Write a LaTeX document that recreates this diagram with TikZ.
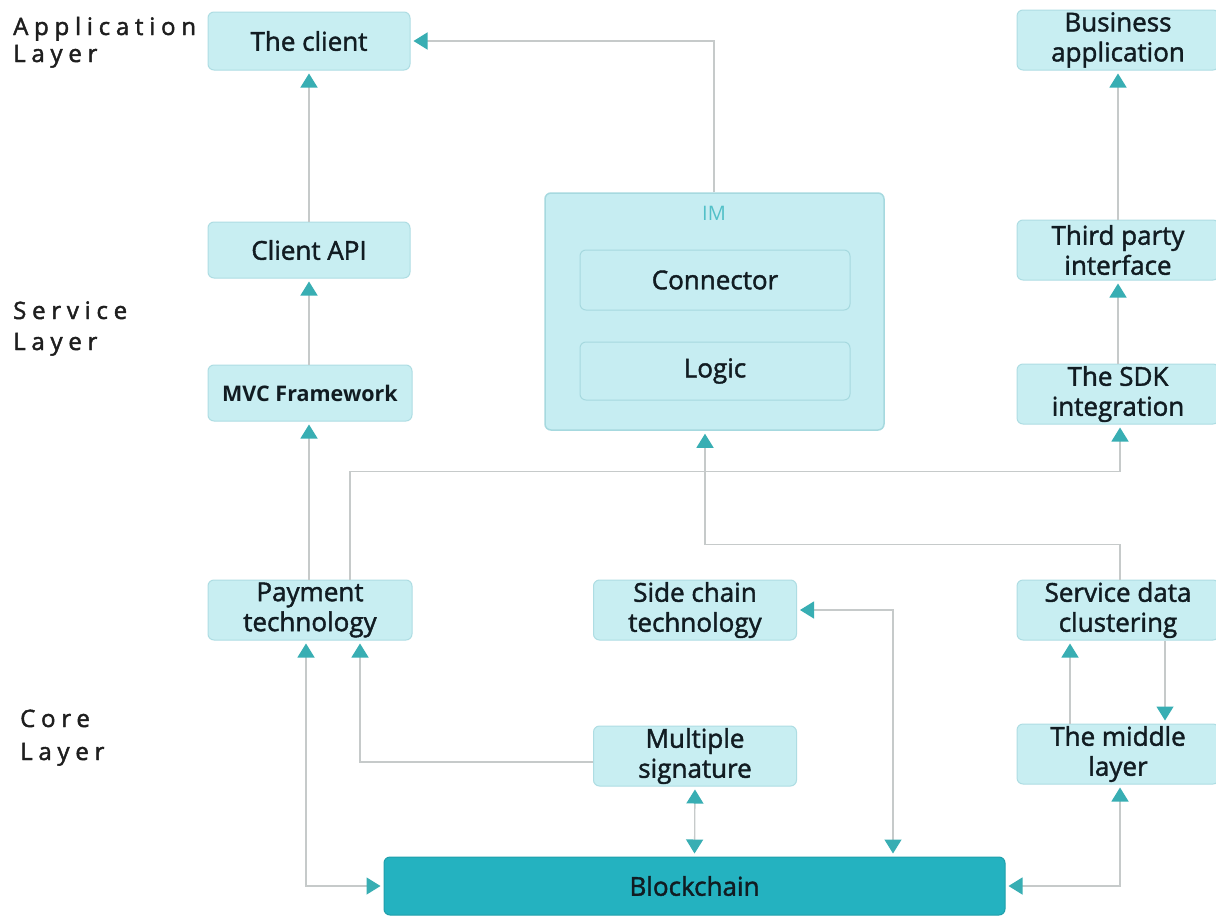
\documentclass[tikz,border=0pt]{standalone}
\usepackage{fontspec}
\setmainfont{Open Sans}
\usetikzlibrary{arrows.meta}
\definecolor{boxfill}{HTML}{C8EEF2}
\definecolor{boxedge}{HTML}{AEDDE3}
\definecolor{imfill}{HTML}{C6EDF2}
\definecolor{imedge}{HTML}{A6D9DF}
\definecolor{blockfill}{HTML}{24B2C0}
\definecolor{blockedge}{HTML}{1F9FAB}
\definecolor{linecol}{HTML}{C6CACA}
\definecolor{tipcol}{HTML}{38AEB3}
\definecolor{txt}{HTML}{111C22}
\definecolor{imtxt}{HTML}{52C0C8}
\definecolor{laytxt}{HTML}{1E1E1E}
\begin{document}
\begin{tikzpicture}[x=1pt,y=-1pt,
  box/.style={draw=boxedge, fill=boxfill, rounded corners=6pt, line width=1pt,
    minimum width=202pt, minimum height=58pt, align=center, text=txt,
    font=\fontsize{26}{30}\selectfont\addfontfeature{FakeBold=1.6}, inner sep=0pt},
  inbox/.style={box, draw=imedge, fill=imfill},
  layerlbl/.style={anchor=base west, inner sep=0pt, text=laytxt,
    font=\fontsize{24}{30}\selectfont\addfontfeature{LetterSpace=24,FakeBold=1.8}},
  conn/.style={draw=linecol, line width=1.3pt, shorten >=3pt,
    -{Triangle[width=17pt,length=14pt,color=tipcol]}},
  dconn/.style={draw=linecol, line width=1.3pt, shorten >=3pt, shorten <=3pt,
    {Triangle[width=17pt,length=14pt,color=tipcol]}-{Triangle[width=17pt,length=14pt,color=tipcol]}}
]
\useasboundingbox (0,0) rectangle (1216,918);
\fill[white] (0,0) rectangle (1216,918);

% layer labels
\node[layerlbl] (la1) at (13,35) {Application};
\node[layerlbl] (la2) at (13,62) {Layer};
\node[layerlbl] (ls1) at (13,319) {Service};
\node[layerlbl] (ls2) at (13,350) {Layer};
\node[layerlbl] (lc1) at (20,727) {Core};
\node[layerlbl] (lc2) at (20,760) {Layer};

% application layer
\node[box] (client) at (309,41) {The client};
\node[box, minimum height=60pt] (bizapp) at (1118,40) {Business\\application};

% service layer
\node[box, minimum height=56pt] (clientapi) at (309,250) {Client API};
\node[box, minimum height=56pt, minimum width=204pt,
  font=\fontsize{21.5}{24}\selectfont\bfseries] (mvc) at (310,393) {MVC Framework};
\node[draw=imedge, fill=imfill, rounded corners=6pt, line width=1.5pt,
  minimum width=339pt, minimum height=237pt, inner sep=0pt] (im) at (714.5,311.5) {};
\node[text=imtxt, font=\fontsize{20}{24}\selectfont, inner sep=0pt] (imlbl) at (714,213) {IM};
\node[inbox, minimum width=270pt, minimum height=60pt] (connector) at (715,280) {Connector};
\node[inbox, minimum width=270pt, minimum height=58pt] (logic) at (715,371) {Logic};
\node[box, minimum height=60pt] (third) at (1118,250) {Third party\\interface};
\node[box, minimum height=60pt] (sdk) at (1118,394) {The SDK\\integration};

% core layer
\node[box, minimum width=204pt, minimum height=60pt] (payment) at (310,610) {Payment\\technology};
\node[box, minimum width=203pt, minimum height=60pt] (side) at (695,610) {Side chain\\technology};
\node[box, minimum height=60pt] (cluster) at (1118,610) {Service data\\clustering};
\node[box, minimum width=203pt, minimum height=60pt] (multi) at (695,756) {Multiple\\signature};
\node[box, minimum height=60pt] (middle) at (1118,754) {The middle\\layer};
\node[box, draw=blockedge, fill=blockfill, minimum width=621pt, minimum height=58pt] (block) at (694.5,886) {Blockchain};

% connectors
\draw[conn] ([xshift=-0.5pt]im.north) |- (client.east);
\draw[conn] (clientapi.north) -- (client.south);
\draw[conn] (clientapi.south |- mvc.north) -- (clientapi.south);
\draw[conn] (clientapi.south |- payment.north) -- (clientapi.south |- mvc.south);
\draw[conn] ([xshift=40pt]payment.north) -- ++(0,-108) -| ([xshift=2pt]sdk.south);
\draw[conn] ([xshift=2pt]cluster.north) -- ++(0,-35) -| ([xshift=-9.5pt]im.south);
\draw[conn] (third.north) -- (bizapp.south);
\draw[conn] (sdk.north) -- (third.south);
\draw[conn] ([yshift=-6pt]multi.west) -| ([xshift=50pt]payment.south);
\draw[dconn] ([xshift=-4pt]payment.south) |- (block.west);
\draw[dconn] (multi.south) -- (block.north);
\draw[dconn] (side.east) -| ([xshift=198.5pt]block.north);
\draw[conn] ([xshift=-48pt]middle.north) -- ([xshift=-48pt]cluster.south);
\draw[conn] ([xshift=47pt]cluster.south) -- ([xshift=47pt]middle.north);
\draw[dconn] ([xshift=2pt]middle.south) |- (block.east);
\end{tikzpicture}
\end{document}
